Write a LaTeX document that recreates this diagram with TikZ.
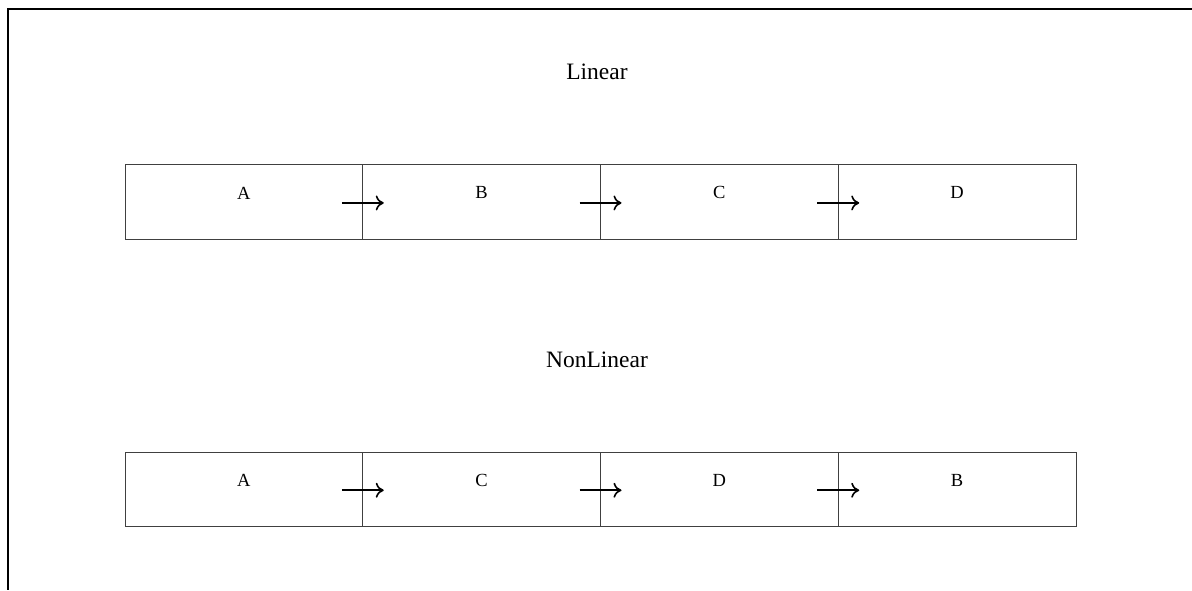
\documentclass[tikz,border=0pt]{standalone}
\usepackage{fontspec}
\setmainfont{Liberation Serif}
\usetikzlibrary{arrows.meta}
\begin{document}
\begin{tikzpicture}[x=1pt,y=-1pt,
  cell/.style={draw=black!75,line width=1pt,rectangle,minimum width=237.75pt,minimum height=74.5pt,inner sep=0pt,outer sep=0pt,anchor=north west},
  letter/.style={font=\fontsize{18.5}{18.5}\selectfont,inner sep=0pt},
  title/.style={font=\fontsize{23.5}{24}\selectfont,inner sep=0pt},
  flow/.style={-{To[length=8pt,width=15pt,line width=1.6pt]},line width=1.8pt,black}]
\useasboundingbox (0,0) rectangle (1192,590);
% page frame (top and left edges only)
\draw[line width=2.6pt,black] (1192,9) -- (8,9) -- (8,590);

% linear sequence
\node[title] (t1) at (597,72) {Linear};
\foreach \n/\t [count=\i from 0] in {a1/A,b1/B,c1/C,d1/D}{
  \node[cell] (\n) at (125+237.75*\i,164.7) {};
  \node[letter] (l\n) at ([yshift=9pt]\n.center) {\t};
}
\draw[flow] ([xshift=-21pt,yshift=-1pt]a1.east) -- ([xshift=21pt,yshift=-1pt]b1.west);
\draw[flow] ([xshift=-21pt,yshift=-1pt]b1.east) -- ([xshift=21pt,yshift=-1pt]c1.west);
\draw[flow] ([xshift=-21pt,yshift=-1pt]c1.east) -- ([xshift=21pt,yshift=-1pt]d1.west);

% non-linear sequence
\node[title] (t2) at (597,360) {NonLinear};
\foreach \n/\t [count=\i from 0] in {a2/A,b2/C,c2/D,d2/B}{
  \node[cell] (\n) at (125+237.75*\i,452) {};
  \node[letter] (l\n) at ([yshift=9pt]\n.center) {\t};
}
\draw[flow] ([xshift=-21pt,yshift=-1pt]a2.east) -- ([xshift=21pt,yshift=-1pt]b2.west);
\draw[flow] ([xshift=-21pt,yshift=-1pt]b2.east) -- ([xshift=21pt,yshift=-1pt]c2.west);
\draw[flow] ([xshift=-21pt,yshift=-1pt]c2.east) -- ([xshift=21pt,yshift=-1pt]d2.west);
\end{tikzpicture}
\end{document}
